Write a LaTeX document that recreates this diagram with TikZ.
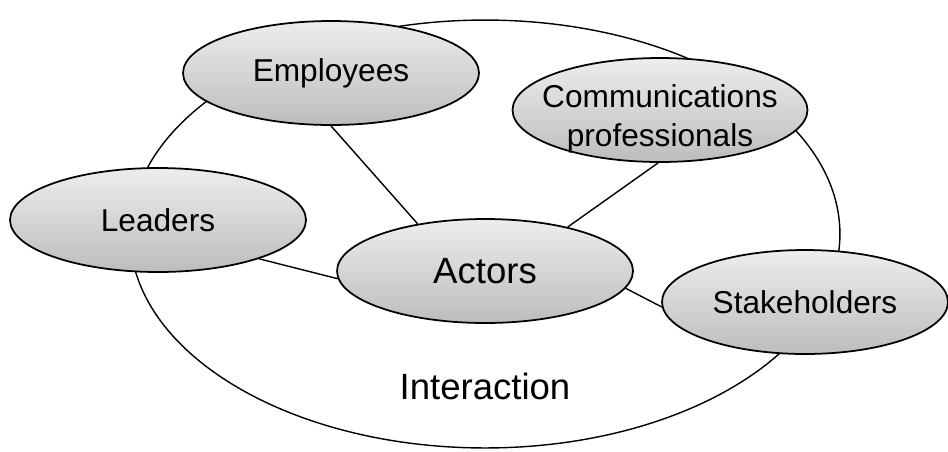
\documentclass[tikz,border=0pt]{standalone}
\usepackage{fontspec}
\setmainfont{Liberation Sans}
\usetikzlibrary{shapes.geometric, positioning}

\begin{document}
\begin{tikzpicture}[x=0.02cm, y=-0.02cm,
    actor/.style={ellipse, draw, line width=1pt, inner sep=0pt,
        top color=black!7, bottom color=black!26,
        minimum width=5.92cm, minimum height=2.08cm,
        font=\fontsize{18}{22}\selectfont, align=center},
    link/.style={line width=0.8pt}]

\useasboundingbox (0,0) rectangle (948,451);

% Interaction
\draw[line width=0.8pt] (485,234) ellipse [x radius=7.1cm, y radius=4.28cm];
\node[font=\fontsize{20.8}{24}\selectfont] (inter) at (485,386) {Interaction};

% Actors
\node[actor] (emp) at (331,73) {Employees};
\node[actor, minimum width=5.9cm] (com) at (660,110) {};
\node[font=\fontsize{18}{22}\selectfont, align=center] (comtext) at (660,119) {Communications\\professionals};
\node[actor] (lead) at (158,220) {Leaders};
\node[actor, font=\fontsize{20.8}{24}\selectfont] (act) at (485,271) {Actors};
\node[actor, minimum width=5.72cm] (stake) at (805,302) {Stakeholders};

% Links to the actors
\draw[link] (emp.270) -- (act.145);
\draw[link] (com.268) -- (act.28);
\draw[link] (lead.-21) -- (act.183);
\draw[link] (act.-7) -- (stake.182);

\end{tikzpicture}
\end{document}
